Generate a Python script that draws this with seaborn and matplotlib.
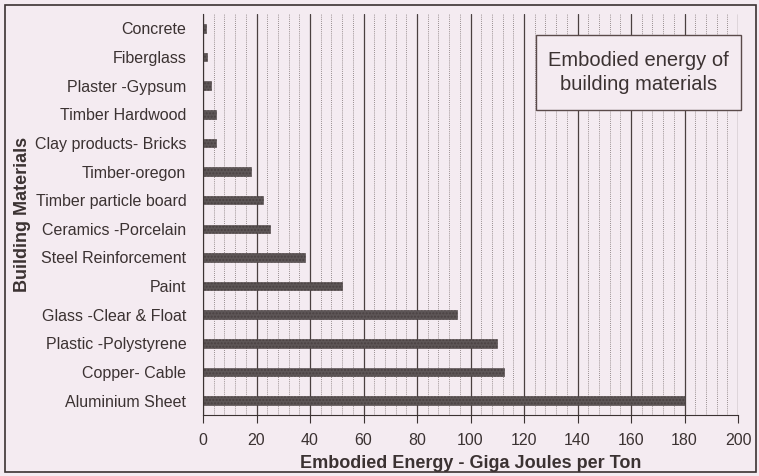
import pandas as pd
import numpy as np
import matplotlib
matplotlib.use("Agg")
import matplotlib.pyplot as plt
from matplotlib.ticker import MultipleLocator
import seaborn as sns

# data (GJ per ton)
materials = ['Concrete', 'Fiberglass', 'Plaster -Gypsum', 'Timber Hardwood', 'Clay products- Bricks',
             'Timber-oregon', 'Timber particle board', 'Ceramics -Porcelain', 'Steel Reinforcement', 'Paint',
             'Glass -Clear & Float', 'Plastic -Polystyrene', 'Copper- Cable', 'Aluminium Sheet']
energy = [1.3, 1.5, 2.9, 5.0, 5.0, 18.0, 22.5, 25.0, 38.0, 52.0, 95.0, 110.0, 112.5, 180.0]

df = pd.DataFrame({'material': materials, 'energy': energy})

bg = '#f4ebf1'
ink = '#3b3232'

sns.set_style('white')
plt.rcParams['font.family'] = ['Liberation Sans', 'DejaVu Sans']

fig = plt.figure(figsize=(7.59, 4.76), dpi=100, facecolor=bg)
ax = fig.add_axes([203 / 759, 1 - 415 / 476, 535 / 759, 401 / 476])
ax.set_facecolor(bg)

sns.barplot(data=df, x='energy', y='material', orient='h', color='#5e5556', width=0.3,
            edgecolor='#4a4142', linewidth=0.4, hatch='.....', ax=ax)

ax.set_xlim(0, 200)
ax.xaxis.set_major_locator(MultipleLocator(20))
ax.xaxis.set_minor_locator(MultipleLocator(4))
ax.grid(axis='x', which='major', color='#4a4040', linewidth=0.9)
ax.grid(axis='x', which='minor', color='#7a7070', linewidth=0.6, linestyle=(0, (1, 1.5)))
ax.set_axisbelow(True)

for s in ['top', 'right']:
    ax.spines[s].set_visible(False)
ax.spines['left'].set_color(ink)
ax.spines['bottom'].set_color(ink)
ax.tick_params(axis='x', which='major', direction='out', length=6, color=ink, labelsize=11.5,
               labelcolor=ink, pad=7, bottom=True)
ax.tick_params(axis='x', which='minor', bottom=False)
ax.tick_params(axis='y', length=0, labelsize=11.5, labelcolor=ink, pad=12)

ax.set_xlabel('Embodied Energy - Giga Joules per Ton', fontsize=13, fontweight='bold', color=ink, labelpad=5)
ax.set_ylabel('Building Materials', fontsize=13, fontweight='bold', color=ink)
ax.yaxis.set_label_coords(-0.322, 0.5)

# title box
ax.add_patch(plt.Rectangle((0.622, 0.761), 0.383, 0.187, transform=ax.transAxes, facecolor=bg,
                           edgecolor='#5a4a4a', linewidth=1.0, clip_on=False, zorder=5))
ax.text(0.814, 0.854, 'Embodied energy of\nbuilding materials', transform=ax.transAxes,
        ha='center', va='center', fontsize=14.5, color=ink, linespacing=1.35, zorder=6)

# outer frame
fig.patches.append(plt.Rectangle((5 / 759, 4 / 476), 751 / 759, 467 / 476, transform=fig.transFigure,
                                 fill=False, edgecolor=ink, linewidth=1.2))

fig.savefig('out.png', dpi=100, facecolor=bg)
